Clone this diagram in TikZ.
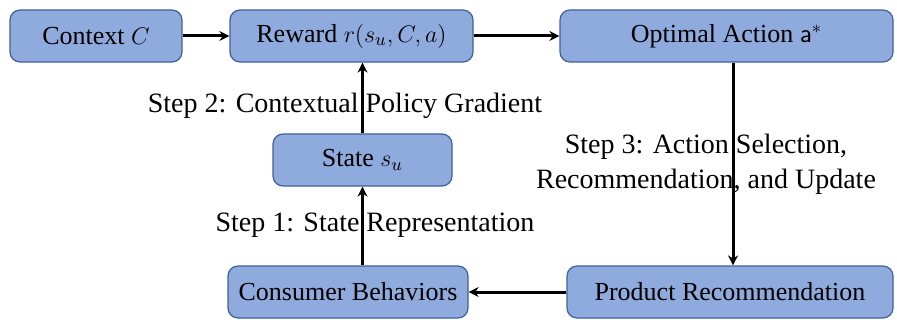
\documentclass[tikz,border=0pt]{standalone}
\usepackage{amsmath, amssymb}
\usepackage{fontspec}
\setmainfont{Liberation Serif}
\usetikzlibrary{arrows.meta, positioning}
\definecolor{boxFill}{HTML}{8FAADC}
\definecolor{boxLine}{HTML}{41609A}

\begin{document}
\begin{tikzpicture}[x=0.5pt, y=-0.5pt, >={Stealth[length=5pt, width=5pt]}, line width=1.5pt,
    stage/.style={draw=boxLine, line width=0.6pt, rounded corners=5pt, fill=boxFill, minimum height=26pt, inner sep=0pt, font=\fontsize{13}{16}\selectfont},
    steplabel/.style={font=\fontsize{14}{17.5}\selectfont, align=center, inner sep=1pt}]
      \useasboundingbox (0,0) rectangle (897,320);
      % top row
      \node[stage, minimum width=86pt] (ctx) at (96,36) {Context $C$};
      \node[stage, minimum width=121.5pt] (rew) at (351.5,36) {Reward $r(s_u, C, a)$};
      \node[stage, minimum width=166.5pt] (opt) at (726.5,36) {Optimal Action $\mathsf{a}^*$};
      % middle and bottom
      \node[stage, minimum width=89.5pt] (state) at (362.5,160) {State $s_u$};
      \node[stage, minimum width=120pt] (cons) at (348,292) {Consumer Behaviors};
      \node[stage, minimum width=163pt] (prod) at (730,292) {Product Recommendation};
      % step labels
      \node[steplabel] (step2) at (345,106) {Step 2: Contextual Policy Gradient};
      \node[steplabel] (step3) at (706,164) {Step 3: Action Selection,\\Recommendation, and Update};
      \node[steplabel] (step1) at (375,225) {Step 1: State Representation};
      % connectors
      \draw[->] (ctx) -- (rew);
      \draw[->] (rew) -- (opt);
      \draw[->] (state.north) -- (state.north |- rew.south);
      \draw[->] (state.south |- cons.north) -- (state.south);
      \draw[->] ([xshift=1.5pt]opt.south -| prod.north) -- ([xshift=1.5pt]prod.north);
      \draw[->] (prod) -- (cons);
    \end{tikzpicture}
\end{document}
